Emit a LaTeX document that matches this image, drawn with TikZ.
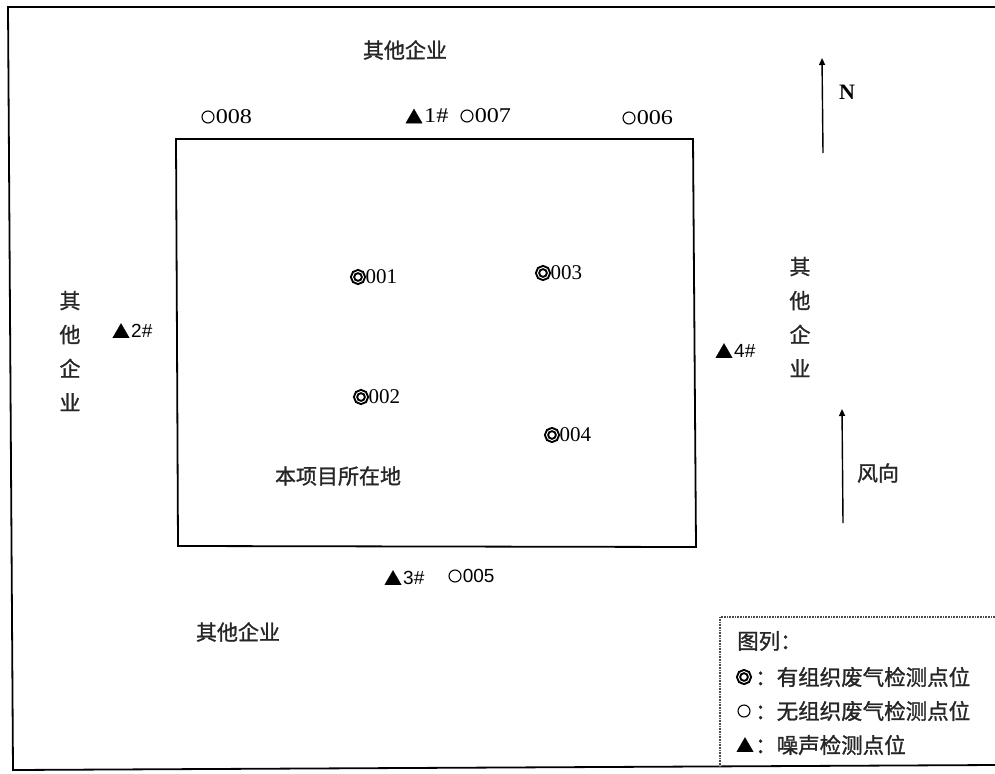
\documentclass[tikz,border=0pt]{standalone}
\usepackage{fontspec}
\setmainfont{Liberation Serif}
\newfontfamily\cjk[FakeBold=1.2]{Noto Sans CJK SC}
\newfontfamily\arialf{Liberation Sans}
\newfontfamily\widserif[FakeStretch=1.15]{Liberation Serif}
\usetikzlibrary{arrows.meta,shapes.geometric}
\begin{document}
\begin{tikzpicture}[x=1pt,y=-1pt,
  cjktext/.style={font=\cjk\fontsize{21}{21}\selectfont, inner sep=0, text=black!85},
  vtext/.style={font=\cjk\fontsize{21}{34}\selectfont, inner sep=0, align=center, text=black!85},
  legtext/.style={font=\cjk\fontsize{21.5}{21.5}\selectfont, inner sep=0, anchor=west, text=black!85},
  numtext/.style={font=\fontsize{21}{21}\selectfont, inner sep=0, anchor=west},
  topnum/.style={font=\widserif\fontsize{21}{21}\selectfont, inner sep=0, anchor=west},
  sanstext/.style={font=\arialf\fontsize{19}{19}\selectfont, inner sep=0, anchor=west},
  dring/.style={circle, draw=black, line width=2pt, double, double distance=0.9pt, minimum size=11pt, inner sep=0},
  ring/.style={circle, draw, line width=1.1pt, minimum size=12pt, inner sep=0},
  tri/.style={regular polygon, regular polygon sides=3, fill, draw, line width=0.3pt, minimum size=19pt, inner sep=0},
  arr/.style={line width=1.4pt, -{Triangle[length=7pt,width=6pt]}},
  border/.style={line width=1.8pt},
]
\useasboundingbox (0,0) rectangle (995,773);
% outer frame
\draw[border] (995,7) -- (8,7) -- (13,770) -- (995,765);
% project site
\draw[border] (176,139) -- (693,139) -- (696,547) -- (178,546) -- cycle;
% surrounding labels
\node[cjktext] (ntop) at (405,50) {其他企业};
\node[cjktext] (nbot) at (238,632) {其他企业};
\node[vtext] (nleft) at (70,351) {其\\他\\企\\业};
\node[vtext] (nright) at (800,317) {其\\他\\企\\业};
\node[cjktext] (site) at (338,476) {本项目所在地};
% top points
\node[ring] (c008) at (208,117) {};
\node[topnum] (t008) at ([xshift=1pt]c008.east) {008};
\node[tri] (n1) at (414,118.5) {};
\node[topnum] (t1) at (424,116) {1\#};
\node[ring] (c007) at (467,116) {};
\node[topnum] (t007) at ([xshift=1pt]c007.east) {007};
\node[ring] (c006) at (629,118) {};
\node[topnum] (t006) at ([xshift=1pt]c006.east) {006};
% noise points
\node[tri] (n2) at (121,333) {};
\node[sanstext] (t2) at (131,331) {2\#};
\node[tri] (n4) at (724,353) {};
\node[sanstext] (t4) at (734,351) {4\#};
\node[tri] (n3) at (393,580) {};
\node[sanstext] (t3) at (403,578) {3\#};
\node[ring] (c005) at (455,576) {};
\node[sanstext] (t005) at ([xshift=1pt]c005.east) {005};
% organised points
\node[dring] (d001) at (358,277) {};
\node[numtext] (t001) at ([xshift=1pt]d001.east) {001};
\node[dring] (d003) at (543,273) {};
\node[numtext] (t003) at ([xshift=1pt]d003.east) {003};
\node[dring] (d002) at (361,397) {};
\node[numtext] (t002) at ([xshift=1pt]d002.east) {002};
\node[dring] (d004) at (552,435) {};
\node[numtext] (t004) at ([xshift=1pt]d004.east) {004};
% north arrow
\coordinate (nS) at (823,153);
\coordinate (nE) at (822,58);
\draw[arr] (nS) -- (nE);
\node[font=\bfseries\fontsize{22}{22}\selectfont, inner sep=0] (nlab) at (847,92) {N};
% wind arrow
\coordinate (wS) at (843,523);
\coordinate (wE) at (842,409);
\draw[arr] (wS) -- (wE);
\node[cjktext] (wlab) at (878,473) {风向};
% legend
\draw[line width=1.2pt, black!70, dash pattern=on 0.8pt off 0.8pt] (995,617) -- (720,617) -- (720,767);
\node[legtext] (lg0) at (737,641) {图列：};
\node[dring] (lgd) at (744,677) {};
\node[legtext] (lg1) at (755,677) {：有组织废气检测点位};
\node[ring] (lgc) at (744,711) {};
\node[legtext] (lg2) at (755,711) {：无组织废气检测点位};
\node[tri] (lgt) at (745,747) {};
\node[legtext] (lg3) at (755,745) {：噪声检测点位};
\end{tikzpicture}
\end{document}
